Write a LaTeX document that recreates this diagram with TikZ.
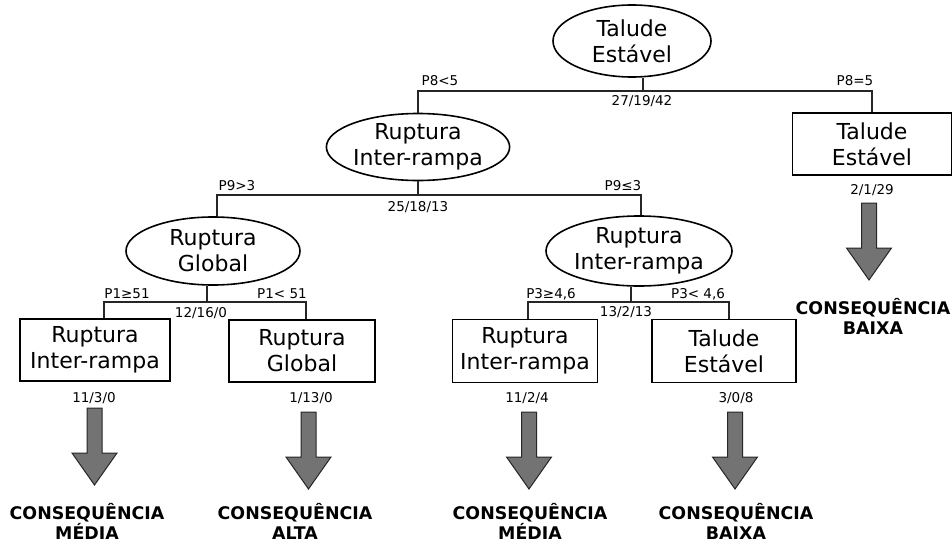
\documentclass[tikz,border=0pt]{standalone}
\usepackage{fontspec}
\setmainfont{DejaVu Sans}
\usetikzlibrary{shapes.geometric}

\tikzset{
  edge/.style={line width=1.3pt, draw=black!85},
  decision/.style={ellipse, draw, line width=1.6pt, inner sep=0pt, align=center,
    font=\fontsize{22}{26}\selectfont},
  leafbox/.style={rectangle, draw, line width=1.8pt, inner sep=0pt, align=center,
    font=\fontsize{22}{26}\selectfont},
  cond/.style={inner sep=0pt, font=\fontsize{13.5}{15}\selectfont},
  result/.style={inner sep=0pt, align=center, font=\bfseries\fontsize{17.4}{20}\selectfont},
  arrowshape/.style={fill=black!55, draw=black!85, line width=1pt, line join=miter},
  pics/bigarrow/.style={code={
    \draw[arrowshape] (-7.5,0) -- (7.5,0) -- (7.5,45) -- (22.5,45) -- (0,77)
      -- (-22.5,45) -- (-7.5,45) -- cycle;}}
}

\begin{document}
\begin{tikzpicture}[x=1pt,y=-1pt]
\useasboundingbox (0,0) rectangle (952,543);

% decision nodes
\node[decision, minimum width=158pt, minimum height=72pt] (root) at (632,41) {Talude\\Estável};
\node[decision, minimum width=180pt, minimum height=67pt] (n1) at (418,147) {Ruptura\\Inter-rampa};
\node[decision, minimum width=174pt, minimum height=68pt] (n2) at (213,251) {Ruptura\\Global};
\node[decision, minimum width=186pt, minimum height=70pt] (n3) at (639,251) {Ruptura\\Inter-rampa};

% leaves
\node[leafbox, minimum width=159pt, minimum height=62pt] (l1) at (872,144) {Talude\\Estável};
\node[leafbox, minimum width=150pt, minimum height=62pt] (l2) at (95,350) {Ruptura\\Inter-rampa};
\node[leafbox, minimum width=146pt, minimum height=62pt] (l3) at (302,351) {Ruptura\\Global};
\node[leafbox, minimum width=145pt, minimum height=63pt] (l4) at (525,351) {Ruptura\\Inter-rampa};
\node[leafbox, minimum width=144pt, minimum height=63pt] (l5) at (724,351) {Talude\\Estável};

% split at the root
\coordinate (s0) at (643,91);
\coordinate (s0l) at (418,91);
\coordinate (s0r) at (872,91);
\draw[edge] (s0 |- root.south) -- (s0);
\draw[edge] (s0l |- n1.north) -- (s0l) -- (s0r) -- (s0r |- l1.north);
\node[cond] (c1) at (440,81) {P8<5};
\node[cond] (c2) at (855,81) {P8=5};
\node[cond] (k0) at (642,101) {27/19/42};

% split below n1
\coordinate (s1) at (418,195);
\coordinate (s1l) at (217,195);
\coordinate (s1r) at (641,195);
\draw[edge] (s1 |- n1.south) -- (s1);
\draw[edge] (s1l |- n2.north) -- (s1l) -- (s1r) -- (s1r |- n3.north);
\node[cond] (c3) at (237,186) {P9>3};
\node[cond] (c4) at (623,186) {P9≤3};
\node[cond] (k1) at (418,207) {25/18/13};

% split below n2
\coordinate (s2) at (207,302);
\coordinate (s2l) at (104,302);
\coordinate (s2r) at (306,302);
\draw[edge] (s2 |- n2.south) -- (s2);
\draw[edge] (s2l |- l2.north) -- (s2l) -- (s2r) -- (s2r |- l3.north);
\node[cond] (c5) at (127,294) {P1≥51};
\node[cond] (c6) at (282,294) {P1< 51};
\node[cond] (k2) at (201,313) {12/16/0};

% split below n3
\coordinate (s3) at (631,302);
\coordinate (s3l) at (528,302);
\coordinate (s3r) at (729,302);
\draw[edge] (s3 |- n3.south) -- (s3);
\draw[edge] (s3l |- l4.north) -- (s3l) -- (s3r) -- (s3r |- l5.north);
\node[cond] (c7) at (551,294) {P3≥4,6};
\node[cond] (c8) at (698,294) {P3< 4,6};
\node[cond] (k3) at (626,312) {13/2/13};

% class counts at the leaves
\node[cond] (k4) at (872,190) {2/1/29};
\node[cond] (k5) at (94,398) {11/3/0};
\node[cond] (k6) at (311,398) {1/13/0};
\node[cond] (k7) at (527,398) {11/2/4};
\node[cond] (k8) at (736,398) {3/0/8};

% outcome arrows
\pic at (869,203) {bigarrow};
\pic at (94.5,408) {bigarrow};
\pic at (308.5,412) {bigarrow};
\pic at (529,412) {bigarrow};
\pic at (735,412) {bigarrow};

% outcomes
\node[result] (r1) at (873,316) {CONSEQUÊNCIA\\BAIXA};
\node[result] (r2) at (87,521) {CONSEQUÊNCIA\\MÉDIA};
\node[result] (r3) at (295,521) {CONSEQUÊNCIA\\ALTA};
\node[result] (r4) at (530,521) {CONSEQUÊNCIA\\MÉDIA};
\node[result] (r5) at (736,521) {CONSEQUÊNCIA\\BAIXA};
\end{tikzpicture}
\end{document}
